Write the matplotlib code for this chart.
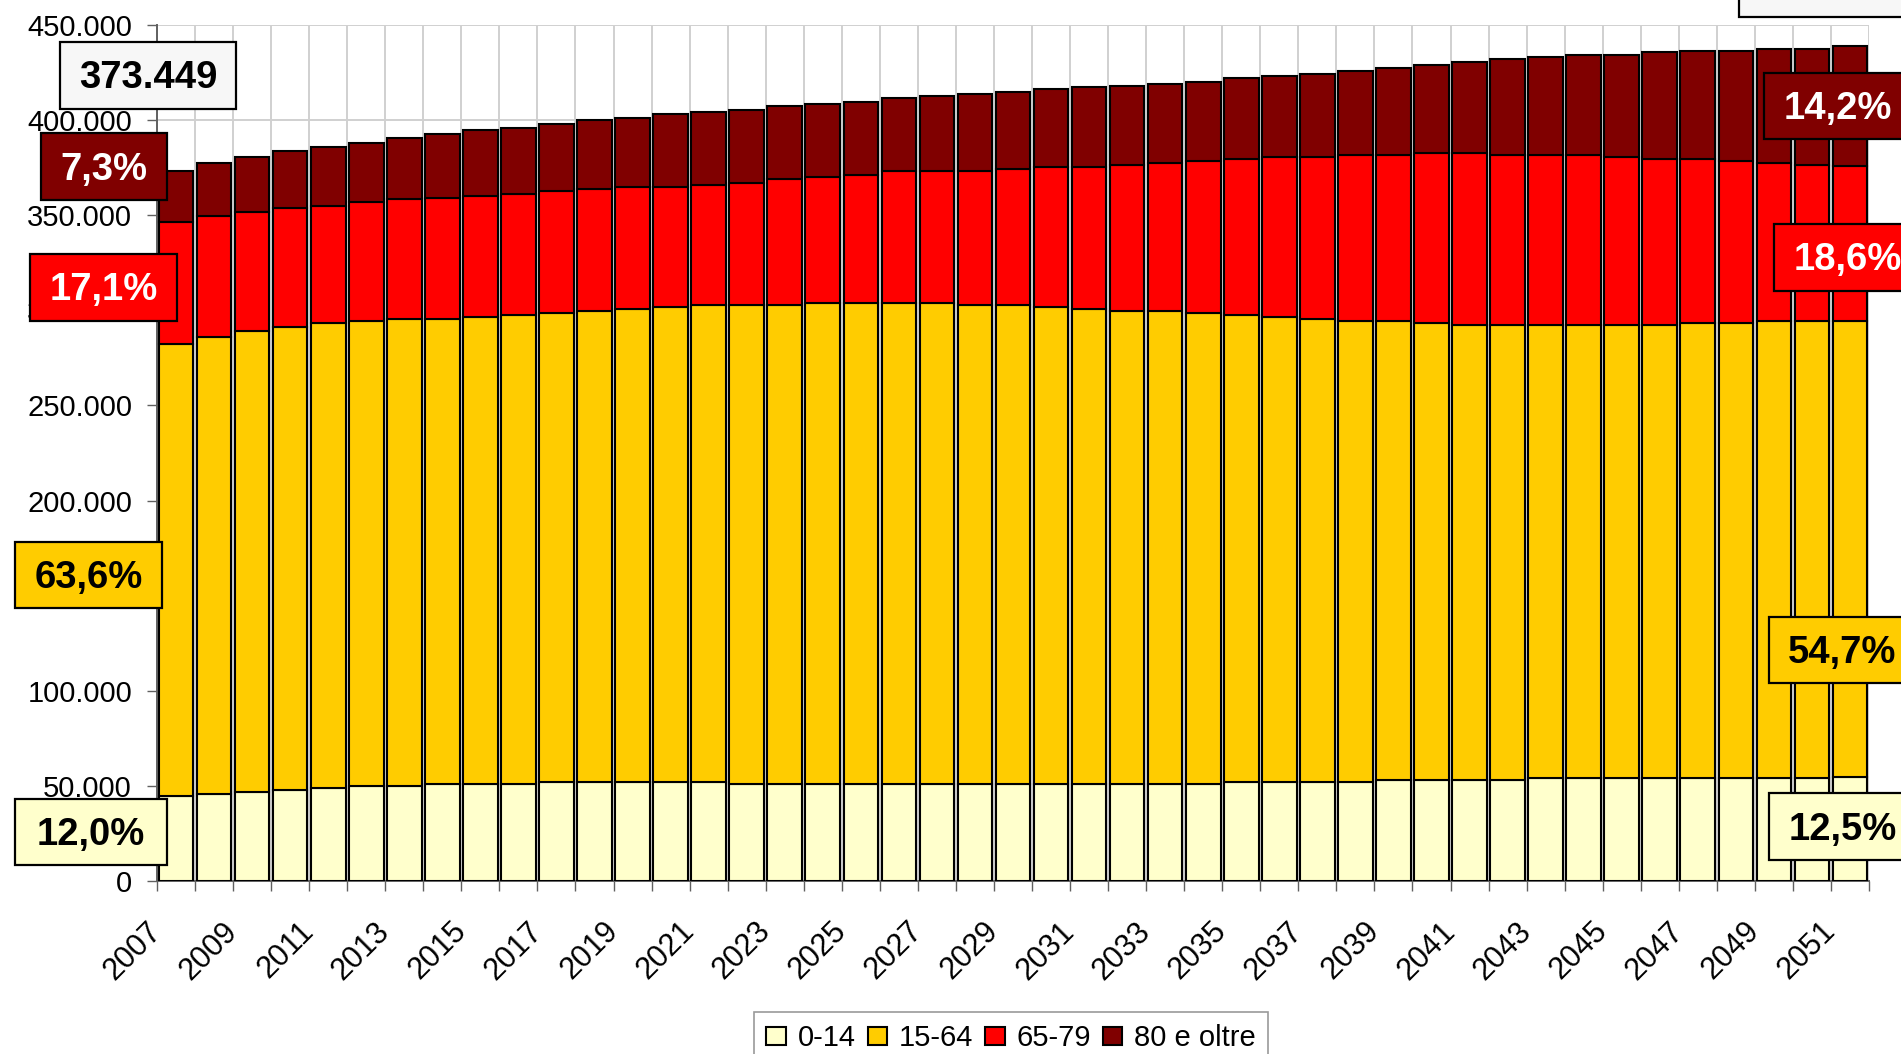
import numpy as np
import matplotlib
matplotlib.use('Agg')
import matplotlib.pyplot as plt
from matplotlib.patches import Rectangle
from matplotlib.ticker import FuncFormatter

plt.rcParams['font.family'] = ['Liberation Sans', 'DejaVu Sans']

years = list(range(2007, 2052))

# population by age group (thousands)
age_0_14 = [44.8, 45.7, 46.9, 48.0, 48.9, 50.1, 50.1, 51.0, 51.0, 51.0,
            52.2, 52.2, 52.2, 52.2, 52.2, 51.0, 51.0, 51.0, 51.0, 51.0,
            51.0, 51.0, 51.0, 51.0, 51.0, 51.0, 51.0, 51.0, 52.2, 52.2,
            52.2, 52.2, 53.1, 53.1, 53.1, 53.1, 54.3, 54.3, 54.3, 54.3,
            54.3, 54.3, 54.3, 54.3, 54.5]
age_15_64 = [237.5, 240.2, 242.1, 243.1, 244.3, 244.2, 245.2, 244.3, 245.4, 246.4,
             246.3, 247.3, 248.4, 249.6, 250.6, 251.8, 251.8, 252.9, 252.9, 252.9,
             252.9, 251.8, 251.8, 250.8, 249.7, 248.5, 248.5, 247.5, 245.2, 244.2,
             243.1, 242.1, 241.2, 240.1, 239.1, 239.1, 237.9, 237.9, 237.9, 237.9,
             238.9, 238.9, 240.0, 240.0, 240.0]
age_65_79 = [63.9, 63.9, 62.9, 62.9, 61.8, 62.9, 63.1, 64.0, 63.9, 64.0,
             64.1, 64.2, 64.1, 62.9, 63.1, 64.0, 66.3, 66.2, 67.1, 69.2,
             69.2, 70.3, 71.5, 73.8, 74.9, 76.9, 78.0, 80.0, 82.2, 84.2,
             85.5, 87.4, 87.4, 89.6, 90.6, 89.5, 89.5, 89.5, 88.4, 87.4,
             86.4, 85.3, 83.2, 82.1, 81.3]
age_80_plus = [27.2, 27.9, 28.9, 30.0, 31.1, 31.0, 32.1, 33.3, 34.5, 34.5,
               35.2, 36.4, 36.5, 38.4, 38.4, 38.4, 38.4, 38.4, 38.6, 38.6,
               39.8, 40.7, 40.6, 40.6, 41.7, 41.6, 41.4, 41.3, 42.4, 42.6,
               43.6, 44.1, 45.9, 46.2, 47.8, 50.5, 51.7, 52.7, 53.7, 56.1,
               56.9, 58.0, 60.1, 61.2, 63.0]

series_names = ['0-14', '15-64', '65-79', '80 e oltre']
series_colors = ['#FFFFCC', '#FFCC00', '#FF0000', '#800000']

total_label = '373.449'
left_labels = ['12,0%', '63,6%', '17,1%', '7,3%']
right_labels = ['12,5%', '54,7%', '18,6%', '14,2%']

W, H = 1901, 1054
fig = plt.figure(figsize=(W / 100, H / 100), dpi=100)
ax = fig.add_axes([157 / W, 1 - 881 / H, (1869 - 157) / W, (881 - 25) / H])

x = np.arange(len(years))
data = [np.array(s) * 1000 for s in (age_0_14, age_15_64, age_65_79, age_80_plus)]
bottom = np.zeros(len(years))
for vals, name, col in zip(data, series_names, series_colors):
    ax.bar(x, vals, bottom=bottom, width=0.91, color=col, edgecolor='black',
           linewidth=1.5, label=name, zorder=3)
    bottom += vals

ax.set_xlim(-0.5, len(years) - 0.5)
ax.set_ylim(0, 450000)
ax.set_yticks(np.arange(0, 450001, 50000))
ax.yaxis.set_major_formatter(FuncFormatter(lambda v, p: f'{int(v):,}'.replace(',', '.')))

ax.set_xticks(np.arange(len(years) + 1) - 0.5)
xlabels = [str(y) if i % 2 == 0 else '' for i, y in enumerate(years)] + ['']
ax.set_xticklabels(xlabels, rotation=45, ha='right', va='center', rotation_mode='anchor')

ax.tick_params(axis='both', labelsize=21, length=7, width=1, color='#606060', direction='out')
ax.tick_params(axis='y', pad=11)
ax.tick_params(axis='x', pad=26, labelsize=22)

ax.grid(True, color='#d0d0d0', linewidth=1.4)
ax.set_axisbelow(True)
for s in ['top', 'right']:
    ax.spines[s].set_visible(False)
for s in ['left', 'bottom']:
    ax.spines[s].set_color('#606060')
    ax.spines[s].set_linewidth(1.4)


def box(x0, y0, x1, y1, fc, text=None, tc='black', tx=None):
    fig.add_artist(Rectangle((x0 / W, 1 - y1 / H), (x1 - x0) / W, (y1 - y0) / H,
                             transform=fig.transFigure, facecolor=fc,
                             edgecolor='black', linewidth=1.6, zorder=10))
    if text:
        cx = (x0 + x1) / 2 if tx is None else tx
        cy = (y0 + y1) / 2 + 3
        fig.text(cx / W, 1 - cy / H, text, ha='center', va='center',
                 fontsize=27.5, fontweight='bold', color=tc, zorder=11)


box(60, 42, 236, 109, '#F7F7F7', total_label)
box(1739, -60, 1960, 17, '#F7F7F7')

left_boxes = [(15, 799, 167, 865), (15, 542, 162, 608), (30, 254, 177, 321), (41, 133, 167, 200)]
right_boxes = [(1769, 793, 1960, 860, 1843), (1769, 617, 1960, 683, 1842),
               (1774, 224, 1960, 291, 1848), (1764, 73, 1960, 139, 1838)]
text_cols = ['black', 'black', 'white', 'white']

for (x0, y0, x1, y1), lab, col, tc in zip(left_boxes, left_labels, series_colors, text_cols):
    box(x0, y0, x1, y1, col, lab, tc)
for (x0, y0, x1, y1, tx), lab, col, tc in zip(right_boxes, right_labels, series_colors, text_cols):
    box(x0, y0, x1, y1, col, lab, tc, tx)

leg = fig.legend(loc='upper center', bbox_to_anchor=(1011 / W, 1 - 1012 / H), ncol=4,
                 fontsize=21, frameon=True, fancybox=False, edgecolor='#808080',
                 handlelength=0.67, handleheight=0.6, handletextpad=0.39,
                 columnspacing=0.42, borderpad=0.42, borderaxespad=0)
leg.get_frame().set_linewidth(1.2)

fig.savefig('out.png', dpi=100)
